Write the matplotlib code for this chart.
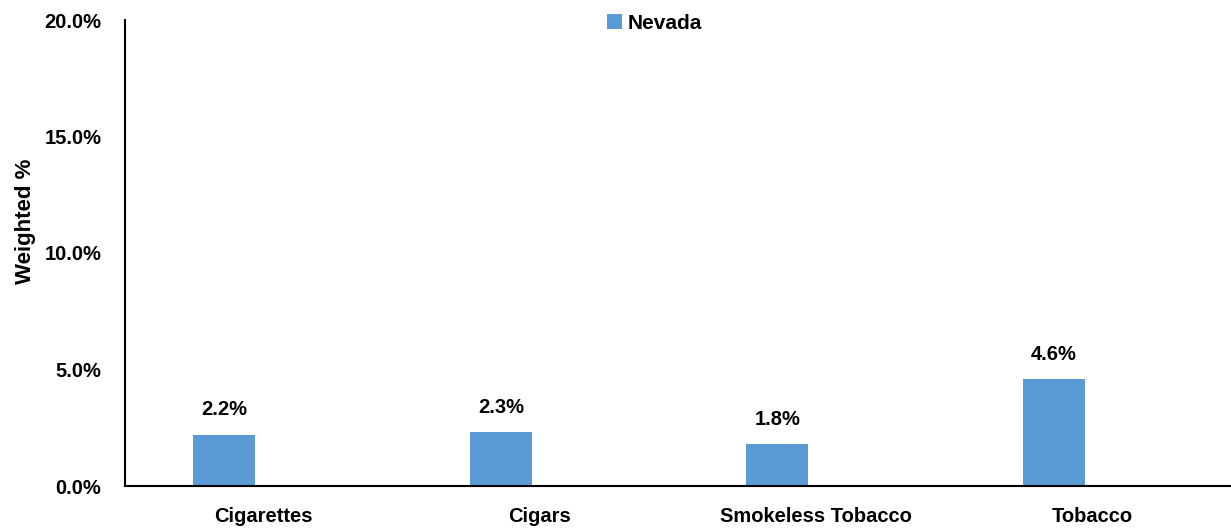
import matplotlib
matplotlib.use("Agg")
import matplotlib.pyplot as plt
import numpy as np
from matplotlib.ticker import FuncFormatter

categories = ["Cigarettes", "Cigars", "Smokeless Tobacco", "Tobacco"]
nevada = [2.2, 2.3, 1.8, 4.6]
yticks = [0, 5, 10, 15, 20]
series_label = "Nevada"

plt.rcParams["font.family"] = ["Liberation Sans", "DejaVu Sans"]
plt.rcParams["font.weight"] = "bold"

fig = plt.figure(figsize=(12.31, 5.29), dpi=100)
ax = fig.add_axes([125 / 1231, 1 - 486 / 529, 1 - 125 / 1231, (486 - 20) / 529])

x = np.arange(len(categories))
# bars sit left of the category centre, as in a grouped layout
bars = ax.bar(x - 0.141, nevada, width=0.225, color="#5B9BD5", label=series_label)
for b, v in zip(bars, nevada):
    ax.annotate(f"{v:.1f}%", (b.get_x() + b.get_width() / 2, v),
                xytext=(0, 11), textcoords="offset points",
                ha="center", va="bottom", fontsize=14.5, fontweight="bold")

ax.set_xlim(-0.5, len(categories) - 0.5)
ax.set_ylim(0, 20)
ax.set_yticks(yticks)
ax.yaxis.set_major_formatter(FuncFormatter(lambda v, _: f"{v:.1f}%"))
ax.set_xticks(x)
ax.set_xticklabels(categories)
ax.tick_params(axis="both", length=0, labelsize=14.5)
ax.tick_params(axis="y", pad=17)
ax.tick_params(axis="x", pad=15)
for lab in ax.get_xticklabels() + ax.get_yticklabels():
    lab.set_fontweight("bold")

for side in ("top", "right"):
    ax.spines[side].set_visible(False)
for side in ("left", "bottom"):
    ax.spines[side].set_linewidth(1.5)
    ax.spines[side].set_color("black")

ax.set_ylabel("Weighted %", fontsize=16, fontweight="bold")
ax.yaxis.set_label_coords(-89 / 1106, (486 - 221) / 466)

ax.legend(loc="upper center", bbox_to_anchor=(0.479, 1.054), frameon=False,
          handlelength=0.7, handleheight=0.7, handletextpad=0.3,
          prop={"weight": "bold", "size": 15})

fig.savefig("out.png", dpi=100)
